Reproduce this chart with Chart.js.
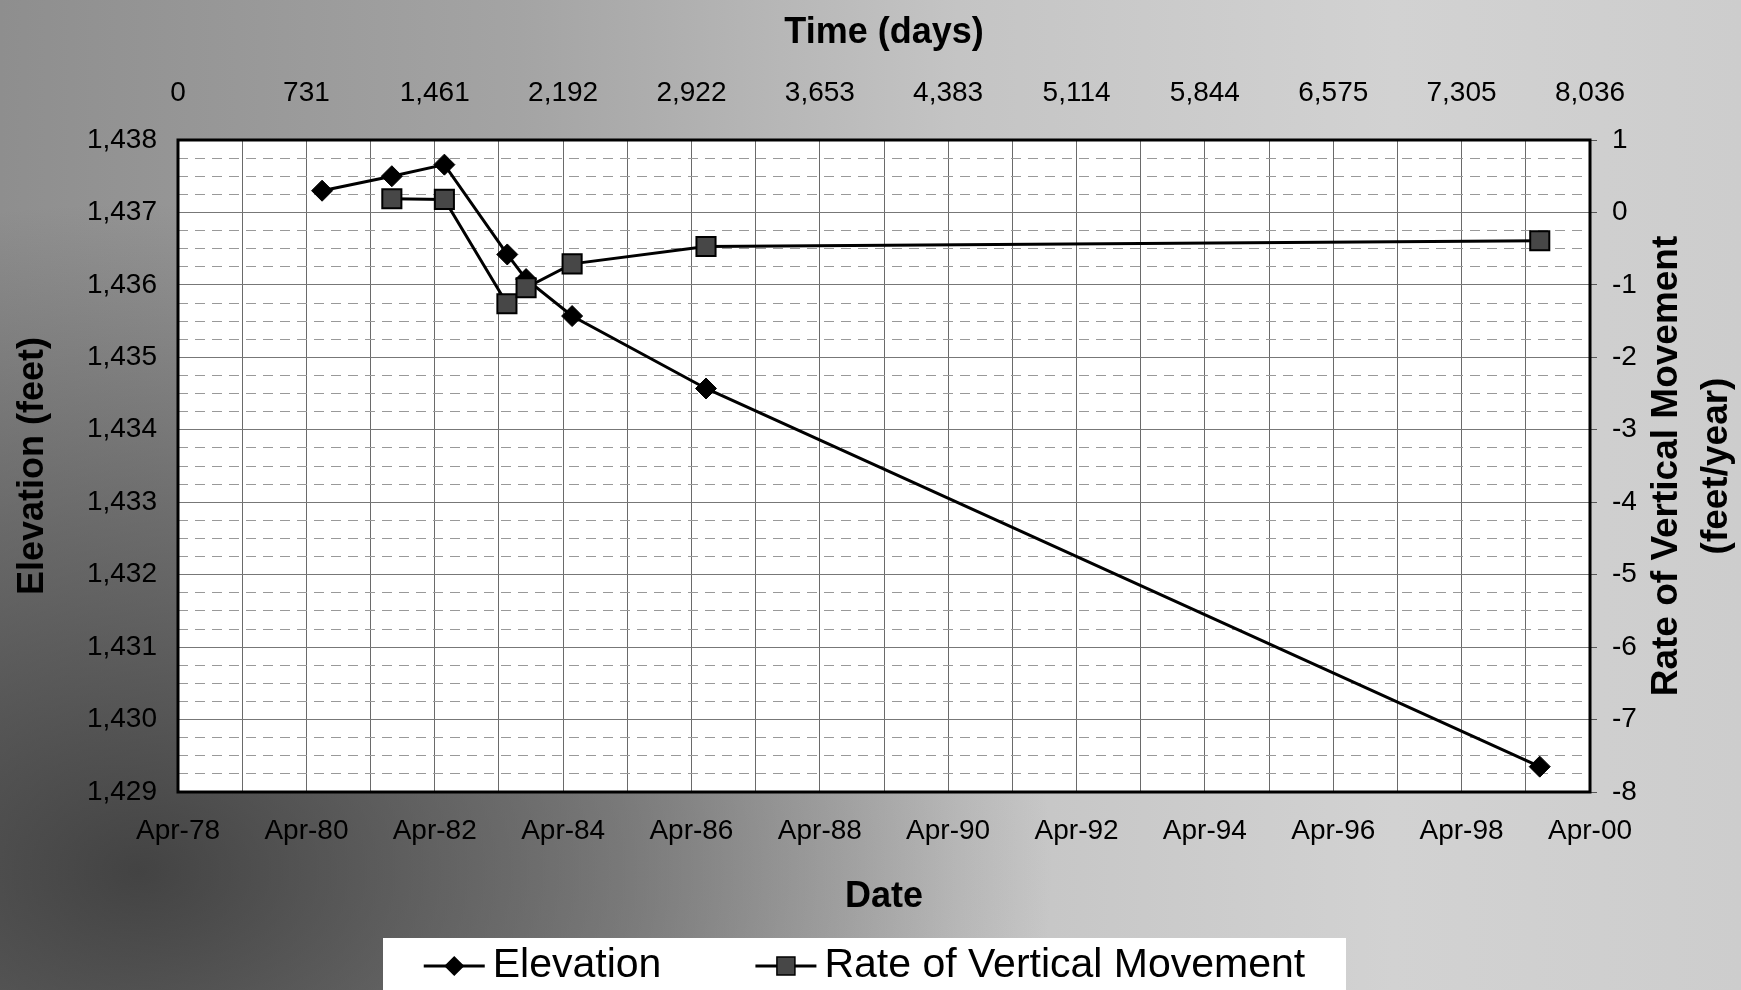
<!DOCTYPE html>
<html>
<head>
<meta charset="utf-8">
<title>Elevation and Rate of Vertical Movement</title>
<script src="https://cdn.jsdelivr.net/npm/chart.js@4.4.1/dist/chart.umd.min.js"></script>
<style>
  html, body { margin: 0; padding: 0; }
  body {
    width: 1741px;
    height: 990px;
    overflow: hidden;
    background:
      radial-gradient(ellipse 70% 90% at 8% 88%, rgba(40,40,40,0.75) 0%, rgba(60,60,60,0.45) 40%, rgba(90,90,90,0) 75%),
      linear-gradient(90deg, #8e8e8e 0%, #a4a4a4 30%, #c4c4c4 55%, #d2d2d2 80%, #cdcdcd 100%);
  }
  canvas { display: block; }
</style>
</head>
<body>
<canvas id="settlementChart" width="1741" height="990"></canvas>
<script>
// ---------------------------
// Data
// ---------------------------

// Elevation survey points (days since Apr-78, feet)
const ELEV_DAYS = [820, 1217, 1516, 1874, 1981, 2243, 3005, 7750];
const ELEV_FEET = [1437.30, 1437.50, 1437.66, 1436.42, 1436.08, 1435.57, 1434.57, 1429.35];

// Rate of vertical movement (days, feet/year)
const RATE_DAYS = [1217, 1516, 1872, 1981, 2243, 3005, 7750];
const RATE_VALUES = [0.19, 0.18, -1.26, -1.04, -0.71, -0.47, -0.39];

// Axis ticks
const DAY_TICKS = [0, 731, 1461, 2192, 2922, 3653, 4383, 5114, 5844, 6575, 7305, 8036];
const DATE_LABELS = ['Apr-78', 'Apr-80', 'Apr-82', 'Apr-84', 'Apr-86', 'Apr-88',
                     'Apr-90', 'Apr-92', 'Apr-94', 'Apr-96', 'Apr-98', 'Apr-00'];
const ELEV_MIN = 1429, ELEV_MAX = 1438;
const RATE_MIN = -8, RATE_MAX = 1;
const RIGHT_TITLE = ['Rate of Vertical Movement', '(feet/year)'];

const FONT = '"Liberation Sans", Arial, sans-serif';
Chart.defaults.font.family = FONT;
Chart.defaults.color = '#000';

// --- helpers ---
function toPoints(xs, ys) {
    return xs.map((x, i) => ({ x: x, y: ys[i] }));
}

function drawMarker(ctx, style, x, y, r) {
    ctx.beginPath();
    if (style === 'rectRot') {
        ctx.moveTo(x - r, y);
        ctx.lineTo(x, y - r);
        ctx.lineTo(x + r, y);
        ctx.lineTo(x, y + r);
        ctx.closePath();
    } else {
        ctx.rect(x - r, y - r, r * 2, r * 2);
    }
    ctx.fill();
    ctx.stroke();
}

// white plot area, thick frame, right title and legend box
const chartFrame = {
    id: 'chartFrame',
    beforeDraw(chart) {
        const { ctx, chartArea: a } = chart;
        ctx.save();
        ctx.fillStyle = '#fff';
        ctx.fillRect(a.left, a.top, a.right - a.left, a.bottom - a.top);
        ctx.restore();
    },
    afterDraw(chart) {
        const { ctx, chartArea: a } = chart;
        ctx.save();
        ctx.strokeStyle = '#000';
        ctx.lineWidth = 3;
        ctx.strokeRect(a.left, a.top, a.right - a.left, a.bottom - a.top);

        // right axis title reads bottom-to-top (Chart.js rotates it the other way)
        const midY = (a.top + a.bottom) / 2;
        ctx.fillStyle = '#000';
        ctx.font = 'bold 37px ' + FONT;
        ctx.textAlign = 'center';
        ctx.textBaseline = 'middle';
        [1667, 1717].forEach((x, i) => {
            ctx.save();
            ctx.translate(x, midY);
            ctx.rotate(-Math.PI / 2);
            ctx.fillText(RIGHT_TITLE[i], 0, 0);
            ctx.restore();
        });

        // legend
        const boxL = 383, boxR = 1346, boxT = 938, rowY = 966;
        const lineLen = 61, textGap = 8, itemGap = 94;
        ctx.fillStyle = '#fff';
        ctx.fillRect(boxL, boxT, boxR - boxL, chart.height - boxT + 5);
        ctx.font = '41px ' + FONT;
        const sets = chart.data.datasets;
        const widths = sets.map(ds => lineLen + textGap + ctx.measureText(ds.label).width);
        const total = widths.reduce((s, w) => s + w, 0) + itemGap * (sets.length - 1);
        let x = (boxL + boxR) / 2 - total / 2;
        sets.forEach((ds, i) => {
            ctx.strokeStyle = '#000';
            ctx.lineWidth = 3;
            ctx.beginPath();
            ctx.moveTo(x, rowY);
            ctx.lineTo(x + lineLen, rowY);
            ctx.stroke();
            ctx.fillStyle = ds.pointBackgroundColor;
            ctx.lineWidth = 1.5;
            drawMarker(ctx, ds.pointStyle, x + lineLen / 2, rowY, ds.pointStyle === 'rectRot' ? 9 : 9);
            ctx.fillStyle = '#000';
            ctx.textAlign = 'left';
            ctx.textBaseline = 'middle';
            ctx.fillText(ds.label, x + lineLen + textGap, rowY);
            x += widths[i] + itemGap;
        });
        ctx.restore();
    }
};

const ctx = document.getElementById('settlementChart');

new Chart(ctx, {
    type: 'line',
    data: {
        datasets: [
            {
                label: 'Elevation',
                data: toPoints(ELEV_DAYS, ELEV_FEET),
                xAxisID: 'x',
                yAxisID: 'y',
                order: 1,
                borderColor: '#000',
                borderWidth: 3,
                tension: 0,
                fill: false,
                pointStyle: 'rectRot',
                pointRadius: 10.5,
                pointHoverRadius: 10.5,
                pointBackgroundColor: '#000',
                pointBorderColor: '#000',
                pointBorderWidth: 1
            },
            {
                label: 'Rate of Vertical Movement',
                data: toPoints(RATE_DAYS, RATE_VALUES),
                xAxisID: 'x',
                yAxisID: 'yRate',
                order: 0,
                borderColor: '#000',
                borderWidth: 3,
                tension: 0,
                fill: false,
                pointStyle: 'rect',
                pointRadius: 13.5,
                pointHoverRadius: 13.5,
                pointBackgroundColor: '#474747',
                pointBorderColor: '#000',
                pointBorderWidth: 2
            }
        ]
    },
    options: {
        responsive: false,
        devicePixelRatio: 1,
        animation: false,
        layout: { padding: 0 },
        plugins: {
            legend: { display: false },
            tooltip: { enabled: false }
        },
        scales: {
            x: {
                type: 'linear',
                position: 'bottom',
                min: DAY_TICKS[0],
                max: DAY_TICKS[DAY_TICKS.length - 1],
                afterBuildTicks: (scale) => {
                    // a grid line every year, a label every two years
                    const ticks = [];
                    DAY_TICKS.forEach((d, i) => {
                        ticks.push({ value: d });
                        if (i < DAY_TICKS.length - 1) ticks.push({ value: (d + DAY_TICKS[i + 1]) / 2 });
                    });
                    scale.ticks = ticks;
                },
                afterFit: (scale) => { scale.height = 198; },
                ticks: {
                    autoSkip: false,
                    maxRotation: 0,
                    padding: 22,
                    font: { size: 28 },
                    callback: (value, index) => index % 2 === 0 ? DATE_LABELS[index / 2] : ''
                },
                grid: { color: '#6a6a6a', lineWidth: 1, drawTicks: false },
                border: { display: false },
                title: {
                    display: true,
                    text: 'Date',
                    font: { size: 36, weight: 'bold' },
                    padding: { top: 0, bottom: 71 }
                }
            },
            xTop: {
                type: 'linear',
                position: 'top',
                min: DAY_TICKS[0],
                max: DAY_TICKS[DAY_TICKS.length - 1],
                afterBuildTicks: (scale) => {
                    scale.ticks = DAY_TICKS.map(d => ({ value: d }));
                },
                afterFit: (scale) => { scale.height = 140; },
                ticks: {
                    autoSkip: false,
                    maxRotation: 0,
                    padding: 30,
                    font: { size: 28 },
                    callback: (value) => value.toLocaleString('en-US')
                },
                grid: { display: false, drawTicks: false },
                border: { display: false },
                title: {
                    display: true,
                    text: 'Time (days)',
                    font: { size: 36, weight: 'bold' },
                    padding: { top: 11, bottom: 0 }
                }
            },
            y: {
                type: 'linear',
                position: 'left',
                min: ELEV_MIN,
                max: ELEV_MAX,
                afterBuildTicks: (scale) => {
                    // labelled feet plus dashed quarter-foot lines
                    const ticks = [];
                    for (let q = ELEV_MIN * 4; q <= ELEV_MAX * 4; q++) ticks.push({ value: q / 4 });
                    scale.ticks = ticks;
                },
                afterFit: (scale) => { scale.width = 178; },
                ticks: {
                    autoSkip: false,
                    padding: 21,
                    font: { size: 28 },
                    callback: (value) => Number.isInteger(value) ? value.toLocaleString('en-US') : ''
                },
                grid: {
                    drawTicks: false,
                    lineWidth: 1,
                    color: (c) => Number.isInteger(c.tick.value) ? '#777' : '#999'
                },
                border: {
                    display: false,
                    dash: (c) => (c.tick && Number.isInteger(c.tick.value)) ? [] : [10, 7]
                },
                title: {
                    display: true,
                    text: 'Elevation (feet)',
                    font: { size: 36, weight: 'bold' },
                    padding: { top: 11, bottom: 0 }
                }
            },
            yRate: {
                type: 'linear',
                position: 'right',
                min: RATE_MIN,
                max: RATE_MAX,
                afterFit: (scale) => { scale.width = 151; },
                ticks: {
                    stepSize: 1,
                    autoSkip: false,
                    padding: 15,
                    font: { size: 28 }
                },
                grid: { drawOnChartArea: false, drawTicks: true, tickLength: 7, color: '#555' },
                border: { display: false }
            }
        }
    },
    plugins: [chartFrame]
});
</script>
</body>
</html>
